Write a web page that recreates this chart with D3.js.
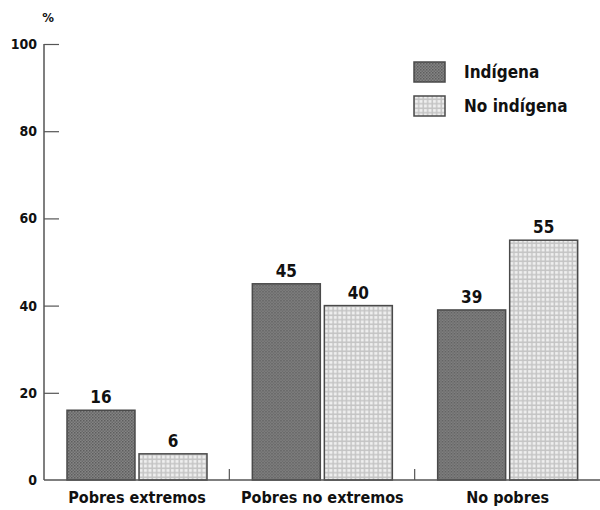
<!DOCTYPE html>
<html>
<head>
<meta charset="utf-8">
<script src="https://cdn.jsdelivr.net/npm/d3@7"></script>
<style>
  html, body { margin: 0; padding: 0; background: #fff; }
  svg { display: block; }
  text { font-family: "Liberation Sans Narrow", "DejaVu Sans Condensed", "Liberation Sans", sans-serif; font-weight: bold; fill: #111; }
</style>
</head>
<body>
<svg id="chart" width="600" height="510"></svg>
<script>
// Population by poverty status, indigenous vs non-indigenous (%)
const categories = ["Pobres extremos", "Pobres no extremos", "No pobres"];
const seriesNames = ["Indígena", "No indígena"];
const indigena = [16, 45, 39];
const noIndigena = [6, 40, 55];
const yTicks = [0, 20, 40, 60, 80, 100];

const svg = d3.select("#chart");
const W = 600, H = 510;
const margin = { left: 44, right: 0, top: 44, bottom: 30 };
const baseY = 480;

// Halftone-like fills for the two series
const defs = svg.append("defs");
const pDark = defs.append("pattern").attr("id", "pat-ind")
  .attr("patternUnits", "userSpaceOnUse").attr("width", 3).attr("height", 3);
pDark.append("rect").attr("width", 3).attr("height", 3).attr("fill", "#848484");
pDark.append("rect").attr("x", 0).attr("y", 0).attr("width", 1.5).attr("height", 1.5).attr("fill", "#5e5e5e");
pDark.append("rect").attr("x", 1.5).attr("y", 1.5).attr("width", 1.5).attr("height", 1.5).attr("fill", "#6a6a6a");

const pLight = defs.append("pattern").attr("id", "pat-noind")
  .attr("patternUnits", "userSpaceOnUse").attr("width", 4.5).attr("height", 4.5);
pLight.append("rect").attr("width", 4.5).attr("height", 4.5).attr("fill", "#c4c4c4");
pLight.append("rect").attr("x", 1).attr("y", 1).attr("width", 3).attr("height", 3).attr("fill", "#efefef");

const fills = ["url(#pat-ind)", "url(#pat-noind)"];

const x0 = d3.scaleBand().domain(categories).range([margin.left, W]).paddingInner(0).paddingOuter(0);
const x1 = d3.scaleBand().domain(seriesNames).range([23, 163]).paddingInner(0.056);
const y = d3.scaleLinear().domain([0, 100]).range([baseY, margin.top]);

const rows = categories.map((c, i) => ({ cat: c, vals: [indigena[i], noIndigena[i]] }));

// Bars
const g = svg.append("g");
const groups = g.selectAll("g.grp").data(rows).join("g")
  .attr("class", "grp")
  .attr("transform", d => `translate(${x0(d.cat)},0)`);

groups.selectAll("rect").data(d => d.vals.map((v, j) => ({ v, s: seriesNames[j], j })))
  .join("rect")
  .attr("x", d => x1(d.s))
  .attr("y", d => y(d.v))
  .attr("width", x1.bandwidth())
  .attr("height", d => baseY - y(d.v))
  .attr("fill", d => fills[d.j])
  .attr("stroke", "#4a4a4a")
  .attr("stroke-width", 1.5);

groups.selectAll("text.val").data(d => d.vals.map((v, j) => ({ v, s: seriesNames[j] })))
  .join("text")
  .attr("class", "val")
  .attr("x", d => x1(d.s) + x1.bandwidth() / 2)
  .attr("y", d => y(d.v) - 7)
  .attr("text-anchor", "middle")
  .attr("font-size", 17)
  .text(d => d.v);

// Y axis (ticks pointing inward)
const yAxis = d3.axisRight(y).tickValues(yTicks.filter(t => t > 0)).tickSize(15).tickFormat("");
const ya = svg.append("g").attr("transform", `translate(${margin.left},0)`).call(yAxis);
ya.select(".domain").remove();
ya.selectAll(".tick line").attr("stroke", "#555").attr("stroke-width", 1.2);
svg.append("line")
  .attr("x1", margin.left).attr("x2", margin.left)
  .attr("y1", y(100)).attr("y2", baseY)
  .attr("stroke", "#555").attr("stroke-width", 1.5);

svg.append("g").selectAll("text").data(yTicks).join("text")
  .attr("x", 37).attr("y", d => y(d) + 5)
  .attr("text-anchor", "end")
  .attr("font-size", 14)
  .text(d => d);

svg.append("text").attr("x", 48).attr("y", 22)
  .attr("text-anchor", "middle").attr("font-size", 13).text("%");

// X baseline, group separators and category labels
svg.append("line")
  .attr("x1", margin.left).attr("x2", W)
  .attr("y1", baseY).attr("y2", baseY)
  .attr("stroke", "#555").attr("stroke-width", 1.5);

svg.append("g").selectAll("line").data(categories.slice(1)).join("line")
  .attr("x1", d => x0(d)).attr("x2", d => x0(d))
  .attr("y1", baseY - 11).attr("y2", baseY)
  .attr("stroke", "#555").attr("stroke-width", 1.2);

svg.append("g").selectAll("text").data(categories).join("text")
  .attr("x", d => x0(d) + 23 + 70)
  .attr("y", 503)
  .attr("text-anchor", "middle")
  .attr("font-size", 16)
  .text(d => d);

// Legend
const legend = svg.append("g");
seriesNames.forEach((s, i) => {
  const ly = 62 + i * 34;
  legend.append("rect")
    .attr("x", 414).attr("y", ly).attr("width", 31).attr("height", 20)
    .attr("fill", fills[i]).attr("stroke", "#4a4a4a").attr("stroke-width", 1.5);
  legend.append("text")
    .attr("x", 464).attr("y", ly + 16)
    .attr("font-size", 17)
    .text(s);
});
</script>
</body>
</html>
